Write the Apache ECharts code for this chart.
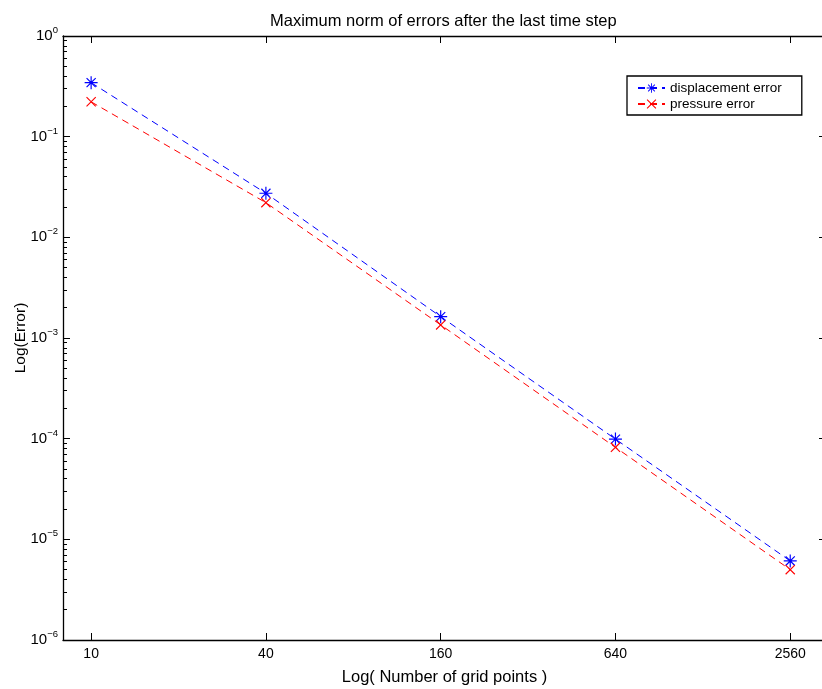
<!DOCTYPE html>
<html>
<head>
<meta charset="utf-8">
<script src="https://cdn.jsdelivr.net/npm/echarts@6/dist/echarts.min.js"></script>
<style>
  html, body { margin: 0; padding: 0; background: #fff; }
  #chart { width: 822px; height: 689px; }
</style>
</head>
<body>
<div id="chart"></div>
<script>
// Grid sizes and the maximum-norm errors measured after the final time step
const gridPoints = [10, 40, 160, 640, 2560];
const displacementError = [0.344, 0.0274, 0.00163, 9.9e-5, 6.1e-6];
const pressureError = [0.222, 0.0221, 0.00135, 8.2e-5, 5.0e-6];
const xTickValues = [10, 40, 160, 640, 2560];
const yDecades = [1e-6, 1e-5, 1e-4, 1e-3, 1e-2, 1e-1, 1];

const FONT = '"Liberation Sans", Arial, Helvetica, sans-serif';

// minor ticks at 2..9 of every decade
const yMinor = [];
for (let e = -6; e <= -1; e++) {
  for (let m = 2; m <= 9; m++) yMinor.push(+(m * Math.pow(10, e)).toPrecision(3));
}

// asterisk and cross markers, built as filled outlines
const starPath = 'path://M0 9.1H20V10.9H0Z M9.1 0H10.9V20H9.1Z ' +
  'M3.64 2.36L17.64 16.36L16.36 17.64L2.36 3.64Z ' +
  'M17.64 3.64L3.64 17.64L2.36 16.36L16.36 2.36Z';
const crossPath = 'path://M1.78 0.22L19.78 18.22L18.22 19.78L0.22 1.78Z ' +
  'M19.78 1.78L1.78 19.78L0.22 18.22L18.22 0.22Z';

const axisLineStyle = { color: '#000', width: 1.3 };
const tickLine = { color: '#000', width: 1 };

function decadeLabel(v) {
  const e = Math.round(Math.log10(v));
  return '{b|10}{s|' + (e < 0 ? '\u2212' + (-e) : e) + '}';
}

const xMin = 8, xMax = 3400, yMin = 1e-6, yMax = 1;

// the same plotting rectangle is reused by all four grids
const rect = { left: 63, top: 36, right: -4, bottom: 49, containLabel: false, outerBoundsMode: 'none' };
const grids = [0, 1, 2, 3].map(() => Object.assign({}, rect));

function yAxisDef(gridIndex, position, opts) {
  return {
    gridIndex: gridIndex,
    type: 'log', logBase: 10, min: yMin, max: yMax, interval: 1,
    position: position,
    axisLine: { show: !opts.minor, onZero: false, lineStyle: axisLineStyle },
    axisTick: {
      show: true, inside: true,
      length: opts.minor ? 4 : 7,
      customValues: opts.minor ? yMinor : yDecades,
      lineStyle: tickLine
    },
    axisLabel: opts.labels ? {
      show: true, margin: 5, customValues: yDecades,
      formatter: decadeLabel,
      rich: {
        b: { fontFamily: FONT, fontSize: 15, color: '#000' },
        s: { fontFamily: FONT, fontSize: 9.5, color: '#000', padding: [0, 0, 11, 0] }
      }
    } : { show: false },
    splitLine: { show: false },
    minorTick: { show: false },
    name: opts.labels ? 'Log(Error)' : '',
    nameLocation: 'middle', nameGap: 34, nameMoveOverlap: false,
    nameTextStyle: { fontFamily: FONT, fontSize: 15.5, color: '#000' }
  };
}

function xAxisDef(gridIndex, position, opts) {
  return {
    gridIndex: gridIndex,
    show: opts.show,
    type: 'log', logBase: 10, min: xMin, max: xMax,
    position: position,
    axisLine: { show: true, onZero: false, lineStyle: axisLineStyle },
    axisTick: { show: true, inside: true, length: 7, customValues: xTickValues, lineStyle: tickLine },
    axisLabel: opts.labels ? {
      show: true, margin: 7, customValues: xTickValues,
      fontFamily: FONT, fontSize: 14, color: '#000',
      formatter: v => String(Math.round(v))
    } : { show: false },
    splitLine: { show: false },
    minorTick: { show: false },
    name: opts.labels ? 'Log( Number of grid points )' : '',
    nameLocation: 'middle', nameGap: 29, nameMoveOverlap: false,
    nameTextStyle: { fontFamily: FONT, fontSize: 16.5, color: '#000' }
  };
}

const chart = echarts.init(document.getElementById('chart'), null, { renderer: 'canvas' });
chart.setOption({
  backgroundColor: '#fff',
  animation: false,
  title: {
    text: 'Maximum norm of errors after the last time step',
    left: 265, top: 8,
    textStyle: { fontFamily: FONT, fontSize: 16.5, fontWeight: 'normal', color: '#000' }
  },
  grid: grids,
  legend: {
    orient: 'vertical',
    left: 627, top: 76,
    backgroundColor: '#fff',
    borderColor: '#000', borderWidth: 1.3, borderRadius: 0,
    padding: [5, 20, 4, 10],
    itemWidth: 27, itemHeight: 12, itemGap: 2,
    textStyle: { fontFamily: FONT, fontSize: 13.5, color: '#000' },
    data: ['displacement error', 'pressure error']
  },
  xAxis: [
    xAxisDef(0, 'bottom', { show: true, labels: true }),
    xAxisDef(1, 'top', { show: true, labels: false }),
    xAxisDef(2, 'bottom', { show: false, labels: false }),
    xAxisDef(3, 'bottom', { show: false, labels: false })
  ],
  yAxis: [
    yAxisDef(0, 'left', { labels: true, minor: false }),
    yAxisDef(1, 'right', { labels: false, minor: false }),
    yAxisDef(2, 'left', { labels: false, minor: true }),
    yAxisDef(3, 'right', { labels: false, minor: true })
  ],
  series: [
    {
      name: 'displacement error', type: 'line',
      xAxisIndex: 0, yAxisIndex: 0,
      data: gridPoints.map((n, i) => [n, displacementError[i]]),
      symbol: starPath, symbolSize: 13, showSymbol: true,
      itemStyle: { color: '#0000ff' },
      lineStyle: { color: '#0000ff', width: 1, type: [7, 5] }
    },
    {
      name: 'pressure error', type: 'line',
      xAxisIndex: 0, yAxisIndex: 0,
      data: gridPoints.map((n, i) => [n, pressureError[i]]),
      symbol: crossPath, symbolSize: 10, showSymbol: true,
      itemStyle: { color: '#ff0000' },
      lineStyle: { color: '#ff0000', width: 1, type: [7, 5] }
    }
  ]
});
</script>
</body>
</html>
